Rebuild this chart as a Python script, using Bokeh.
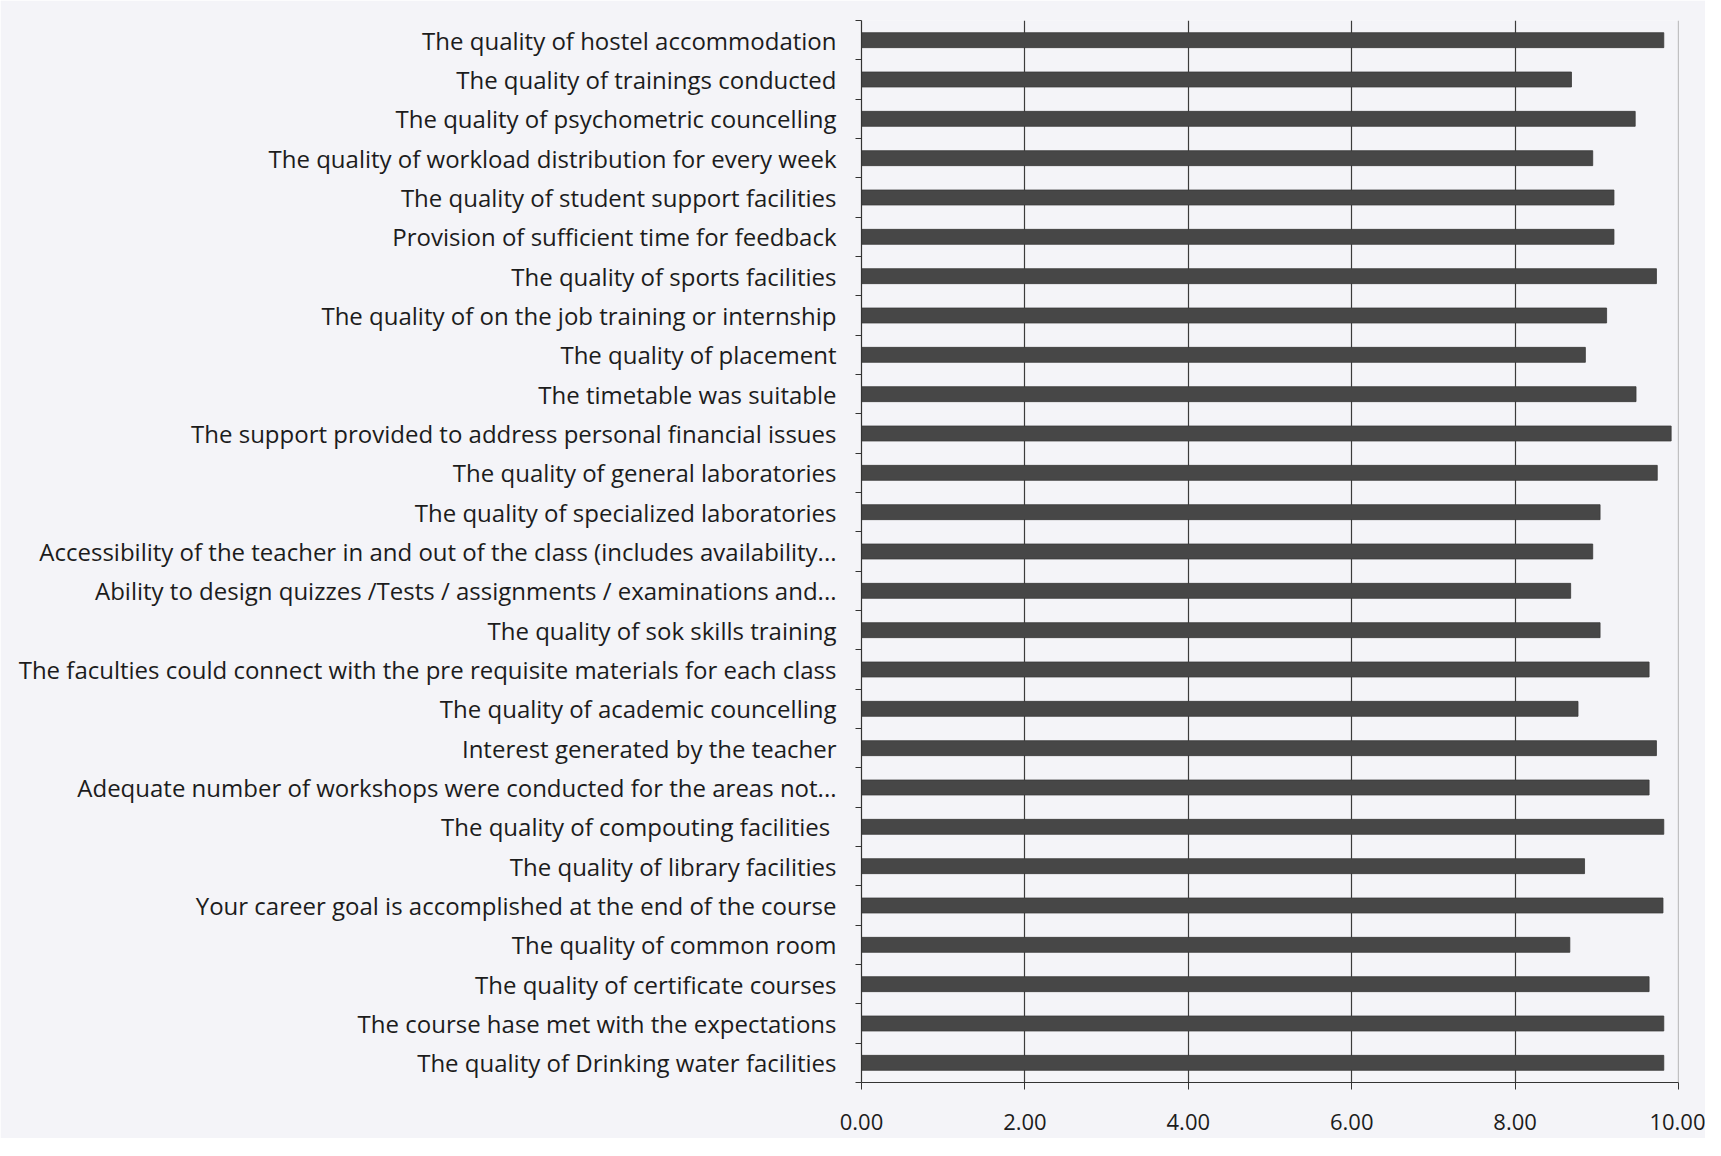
from bokeh.plotting import figure
from bokeh.models import Range1d, LinearAxis, FixedTicker, NumeralTickFormatter, Span, ColumnDataSource
from bokeh.embed import file_html
from bokeh.resources import INLINE

# ---- data (top to bottom as shown) ----
categories = [
    "The quality of hostel accommodation",
    "The quality of trainings conducted",
    "The quality of psychometric councelling",
    "The quality of workload distribution for every week",
    "The quality of student support facilities",
    "Provision of sufficient time for feedback",
    "The quality of sports facilities",
    "The quality of on the job training or internship",
    "The quality of placement",
    "The timetable was suitable",
    "The support provided to address personal financial issues",
    "The quality of general laboratories",
    "The quality of specialized laboratories",
    "Accessibility of the teacher in and out of the class (includes availability...",
    "Ability to design quizzes /Tests / assignments / examinations and...",
    "The quality of sok skills training",
    "The faculties could connect with the pre requisite materials for each class",
    "The quality of academic councelling",
    "Interest generated by the teacher",
    "Adequate number of workshops were conducted for the areas not...",
    "The quality of compouting  facilities",
    "The quality of library facilities",
    "Your career goal is accomplished at the end of the course",
    "The quality of common room",
    "The quality of certificate courses",
    "The course hase met with the expectations",
    "The quality of Drinking water facilities",
]
scores = [
    9.82, 8.69, 9.47, 8.95, 9.21, 9.21, 9.73, 9.12, 8.86,
    9.48, 9.91, 9.74, 9.04, 8.95, 8.68, 9.04, 9.64, 8.77, 9.73,
    9.64, 9.82, 8.85, 9.81, 8.67, 9.64, 9.82, 9.82,
]
x_ticks = [0, 2, 4, 6, 8, 10]
grid_ticks = [2, 4, 6, 8]

n = len(categories)
ypos = [n - 1 - i for i in range(n)]
boundaries = [k - 0.5 for k in range(n + 1)]

bg = "#f4f4f8"
font = "Open Sans"
text_color = "#1c1c1c"

src = ColumnDataSource(dict(y=ypos, v=scores, cat=categories))

p = figure(
    frame_width=817, frame_height=1062,
    x_range=Range1d(0, 10), y_range=Range1d(-0.5, n - 0.5),
    output_backend="svg", toolbar_location=None,
    y_axis_location=None,
    min_border_left=861, min_border_right=27, min_border_top=20, min_border_bottom=56,
    background_fill_color=bg, border_fill_color=bg, outline_line_color=None,
)

p.hbar(y="y", left=0, right="v", height=0.38, source=src,
       fill_color="#474747", line_color="#3a3a3a", line_width=0.8)

# grid
p.ygrid.visible = False
p.xgrid.ticker = FixedTicker(ticks=grid_ticks)
p.xgrid.grid_line_color = "#3c3c3c"
p.xgrid.grid_line_width = 1.2
p.add_layout(Span(location=10, dimension="height", line_color="#8a8a8a", line_width=1.2))

# bottom axis
xa = p.xaxis[0]
xa.ticker = FixedTicker(ticks=x_ticks)
xa.formatter = NumeralTickFormatter(format="0.00")
xa.major_tick_in = 0
xa.major_tick_out = 7
xa.minor_tick_line_color = None
xa.axis_line_color = "#333333"
xa.axis_line_width = 1.2
xa.major_tick_line_color = "#333333"
xa.major_label_standoff = 24
xa.major_label_text_font = font
xa.major_label_text_font_size = "22px"
xa.major_label_text_color = text_color

# left tick axis (ticks at category boundaries)
tick_axis = LinearAxis(
    ticker=FixedTicker(ticks=boundaries),
    major_label_overrides={b: "" for b in boundaries},
    major_label_standoff=0,
    major_tick_in=0, major_tick_out=6,
    minor_tick_line_color=None,
    axis_line_color="#333333", axis_line_width=1.2,
    major_tick_line_color="#333333",
    major_label_text_font_size="1px",
)
# label axis
label_axis = LinearAxis(
    ticker=FixedTicker(ticks=ypos),
    major_label_overrides={y: c for y, c in zip(ypos, categories)},
    major_label_standoff=19,
    major_tick_in=0, major_tick_out=0,
    major_tick_line_color=None, minor_tick_line_color=None,
    axis_line_color=None,
    major_label_text_font=font, major_label_text_font_size="24px",
    major_label_text_color=text_color,
)
p.add_layout(tick_axis, "left")
p.add_layout(label_axis, "left")

open("out.html", "w").write(file_html(p, INLINE))
